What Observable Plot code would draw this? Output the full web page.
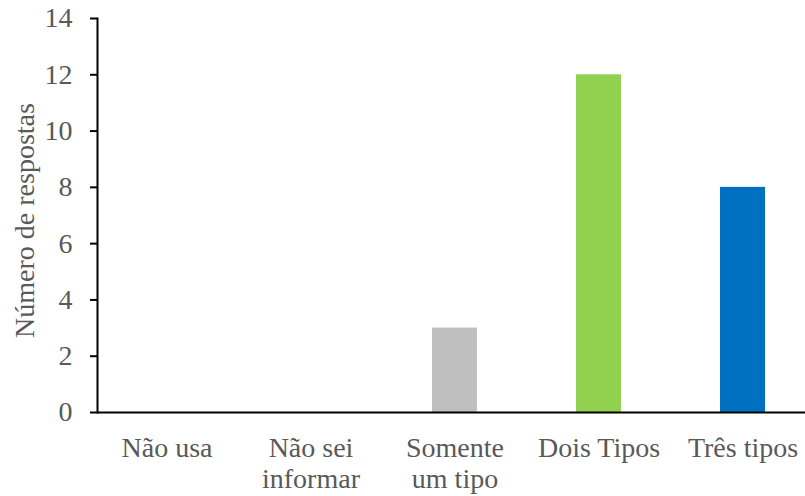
<!DOCTYPE html>
<html>
<head>
<meta charset="utf-8">
<script src="https://cdn.jsdelivr.net/npm/d3@7"></script>
<script src="https://cdn.jsdelivr.net/npm/@observablehq/plot@0.6"></script>
<style>
  html, body { margin: 0; padding: 0; background: #fff; }
  #chart svg { display: block; }
</style>
</head>
<body>
<div id="chart"></div>
<script>
// Respostas por quantidade de tipos utilizados
const categories = ["Não usa", "Não sei\ninformar", "Somente\num tipo", "Dois Tipos", "Três tipos"];
const values = [0, 0, 3, 12, 8];
const barColors = ["#bfbfbf", "#bfbfbf", "#bfbfbf", "#92d050", "#0070c0"];
const yTicks = [0, 2, 4, 6, 8, 10, 12, 14];
const yLabel = "Número de respostas";

const data = categories.map((c, i) => ({category: c, value: values[i], color: barColors[i]}));

const textColor = "#595959";
const font = "'Liberation Serif', 'Times New Roman', serif";
const fs = 28;

const chart = Plot.plot({
  width: 805,
  height: 496,
  marginLeft: 97,
  marginRight: 0,
  marginTop: 18,
  marginBottom: 84,
  style: {fontFamily: font, fontSize: fs + "px", color: textColor, background: "#fff"},
  x: {domain: categories, range: [94, 814], paddingInner: 0.6875, paddingOuter: 0.34375},
  y: {domain: [0, 14]},
  marks: [
    Plot.barY(data, {x: "category", y: "value", fill: "color"}),
    Plot.axisY({
      ticks: yTicks, tickSize: 7, tickPadding: 18, stroke: "#000", strokeWidth: 2,
      fill: textColor, fontSize: fs, label: null
    }),
    Plot.axisX({
      tickSize: 0, tickPadding: 23, fill: textColor, fontSize: fs,
      lineHeight: 1.1, label: null
    }),
    Plot.frame({anchor: "left", stroke: "#000", strokeWidth: 2}),
    Plot.ruleY([0], {stroke: "#000", strokeWidth: 2}),
    Plot.text([yLabel], {
      frameAnchor: "left", rotate: -90, dx: -72, dy: 5,
      textAnchor: "middle", lineAnchor: "middle",
      fill: textColor, fontSize: fs
    })
  ]
});

document.getElementById("chart").appendChild(chart);
</script>
</body>
</html>
